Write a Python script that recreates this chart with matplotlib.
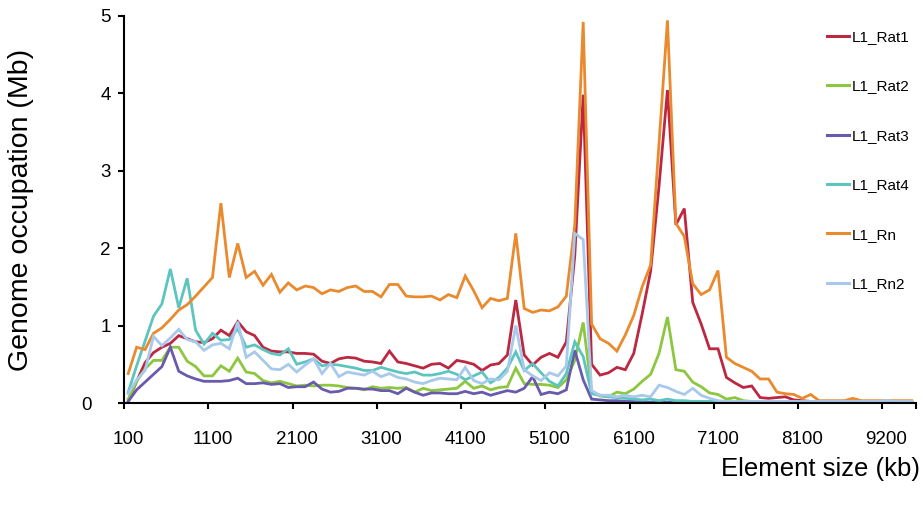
import matplotlib
matplotlib.use("Agg")
import matplotlib.pyplot as plt
from matplotlib.transforms import ScaledTranslation

# ---------------- data ----------------
sizes = list(range(100, 8200, 100)) + list(range(8200, 9100, 100)) + [9200, 9300, 9400, 9500]

L1_Rat1 = [0.02, 0.28, 0.52, 0.65, 0.72, 0.77, 0.87, 0.83, 0.79, 0.78,
           0.83, 0.94, 0.87, 1.05, 0.92, 0.87, 0.72, 0.67, 0.66, 0.66,
           0.64, 0.64, 0.63, 0.54, 0.51, 0.57, 0.59, 0.58, 0.54, 0.53,
           0.51, 0.67, 0.53, 0.51, 0.48, 0.45, 0.50, 0.51, 0.45, 0.55,
           0.53, 0.50, 0.42, 0.49, 0.51, 0.62, 1.33, 0.62, 0.49, 0.59,
           0.64, 0.59, 0.79, 1.90, 3.98, 0.50, 0.36, 0.39, 0.46, 0.43,
           0.64, 1.15, 1.70, 2.80, 4.04, 2.30, 2.51, 1.30, 1.02, 0.70,
           0.70, 0.33, 0.26, 0.20, 0.22, 0.07, 0.06, 0.07, 0.08, 0.04,
           0.03, 0.02, 0.01, 0.01, 0.01, 0.01, 0.01, 0.01, 0.01, 0.01,
           0.01, 0.01, 0.01, 0.01]

L1_Rat2 = [0.05, 0.28, 0.44, 0.55, 0.55, 0.72, 0.72, 0.54, 0.47, 0.35,
           0.35, 0.48, 0.41, 0.58, 0.40, 0.38, 0.29, 0.26, 0.28, 0.25,
           0.22, 0.23, 0.22, 0.23, 0.23, 0.22, 0.20, 0.19, 0.17, 0.21,
           0.19, 0.20, 0.19, 0.20, 0.14, 0.19, 0.16, 0.17, 0.18, 0.19,
           0.28, 0.19, 0.22, 0.17, 0.20, 0.21, 0.45, 0.25, 0.24, 0.24,
           0.23, 0.20, 0.30, 0.55, 1.04, 0.15, 0.09, 0.08, 0.14, 0.12,
           0.18, 0.28, 0.37, 0.64, 1.11, 0.43, 0.41, 0.27, 0.21, 0.13,
           0.11, 0.05, 0.07, 0.03, 0.02, 0.01, 0.01, 0.01, 0.01, 0.01,
           0.01, 0.01, 0.01, 0.01, 0.01, 0.01, 0.01, 0.01, 0.01, 0.01,
           0.01, 0.01, 0.01, 0.01]

L1_Rat3 = [0.02, 0.17, 0.27, 0.37, 0.47, 0.72, 0.41, 0.35, 0.31, 0.28,
           0.28, 0.28, 0.29, 0.32, 0.25, 0.25, 0.26, 0.24, 0.25, 0.20,
           0.21, 0.21, 0.27, 0.18, 0.14, 0.15, 0.19, 0.19, 0.18, 0.18,
           0.16, 0.16, 0.12, 0.19, 0.14, 0.10, 0.13, 0.13, 0.12, 0.12,
           0.15, 0.12, 0.14, 0.10, 0.13, 0.16, 0.14, 0.19, 0.34, 0.11,
           0.14, 0.12, 0.17, 0.68, 0.30, 0.05, 0.04, 0.03, 0.03, 0.02,
           0.02, 0.01, 0.01, 0.01, 0.01, 0.01, 0.01, 0.01, 0.01, 0.01,
           0.01, 0.01, 0.01, 0.01, 0.01, 0.01, 0.01, 0.01, 0.01, 0.01,
           0.01, 0.01, 0.01, 0.01, 0.01, 0.01, 0.01, 0.01, 0.01, 0.01,
           0.01, 0.01, 0.01, 0.01]

L1_Rat4 = [0.14, 0.48, 0.80, 1.12, 1.28, 1.73, 1.23, 1.61, 0.94, 0.76,
           0.90, 0.81, 0.82, 0.96, 0.72, 0.75, 0.69, 0.64, 0.62, 0.70,
           0.50, 0.53, 0.57, 0.48, 0.50, 0.49, 0.47, 0.45, 0.42, 0.42,
           0.46, 0.43, 0.40, 0.38, 0.40, 0.36, 0.36, 0.38, 0.41, 0.37,
           0.30, 0.35, 0.40, 0.26, 0.33, 0.45, 0.66, 0.42, 0.51, 0.39,
           0.28, 0.22, 0.38, 0.79, 0.60, 0.12, 0.10, 0.08, 0.07, 0.06,
           0.05, 0.04, 0.05, 0.03, 0.05, 0.03, 0.03, 0.02, 0.02, 0.02,
           0.02, 0.01, 0.01, 0.01, 0.01, 0.01, 0.01, 0.01, 0.01, 0.01,
           0.01, 0.01, 0.01, 0.01, 0.01, 0.01, 0.01, 0.01, 0.01, 0.01,
           0.01, 0.01, 0.01, 0.01]

L1_Rn = [0.38, 0.72, 0.69, 0.90, 0.97, 1.08, 1.20, 1.27, 1.38, 1.50,
         1.62, 2.58, 1.62, 2.06, 1.62, 1.70, 1.52, 1.66, 1.43, 1.55,
         1.46, 1.51, 1.49, 1.41, 1.46, 1.44, 1.49, 1.51, 1.44, 1.44,
         1.37, 1.53, 1.53, 1.38, 1.37, 1.37, 1.38, 1.33, 1.40, 1.36,
         1.64, 1.45, 1.23, 1.35, 1.32, 1.35, 2.19, 1.22, 1.17, 1.20,
         1.19, 1.24, 1.38, 2.30, 4.92, 1.02, 0.83, 0.77, 0.67, 0.88,
         1.13, 1.50, 1.78, 3.35, 4.94, 2.32, 2.15, 1.54, 1.40, 1.46,
         1.71, 0.59, 0.51, 0.46, 0.41, 0.31, 0.31, 0.14, 0.12, 0.11,
         0.06, 0.11, 0.03, 0.03, 0.03, 0.03, 0.06, 0.03, 0.03, 0.03,
         0.03, 0.03, 0.03, 0.03]

L1_Rn2 = [0.12, 0.30, 0.42, 0.86, 0.74, 0.84, 0.95, 0.82, 0.79, 0.68,
          0.75, 0.77, 0.70, 1.05, 0.59, 0.66, 0.55, 0.44, 0.43, 0.50,
          0.40, 0.49, 0.57, 0.38, 0.51, 0.34, 0.40, 0.38, 0.36, 0.41,
          0.34, 0.38, 0.33, 0.31, 0.27, 0.25, 0.29, 0.32, 0.31, 0.30,
          0.46, 0.29, 0.25, 0.31, 0.30, 0.41, 1.00, 0.43, 0.35, 0.29,
          0.39, 0.35, 0.48, 2.19, 2.11, 0.16, 0.10, 0.10, 0.08, 0.10,
          0.08, 0.10, 0.08, 0.23, 0.20, 0.15, 0.11, 0.19, 0.10, 0.06,
          0.03, 0.02, 0.02, 0.02, 0.02, 0.02, 0.02, 0.02, 0.02, 0.02,
          0.02, 0.02, 0.02, 0.02, 0.02, 0.02, 0.02, 0.02, 0.02, 0.02,
          0.03, 0.02, 0.02, 0.02]

series_names = ["L1_Rat1", "L1_Rat2", "L1_Rat3", "L1_Rat4", "L1_Rn", "L1_Rn2"]
series_values = [L1_Rat1, L1_Rat2, L1_Rat3, L1_Rat4, L1_Rn, L1_Rn2]
colors = ["#BC2841", "#8DC63F", "#6A5AAD", "#5CC5BF", "#E98A2F", "#A7C9EC"]

x_label = "Element size (kb)"
y_label = "Genome occupation (Mb)"

# ---------------- figure ----------------
plt.rcParams['font.family'] = ['Liberation Sans', 'DejaVu Sans']

fig = plt.figure(figsize=(9.23, 5.11), dpi=100)
W, H = 923, 511
ax = fig.add_axes([124 / W, (H - 403) / H, 792 / W, 387.3 / H])

n = len(sizes)
xs = list(range(n))
for name, vals, c in zip(series_names, series_values, colors):
    ax.plot(xs, vals, color=c, lw=2.0, label=name, solid_joinstyle='miter')

ax.set_xlim(-0.5, n - 0.5)
ax.set_ylim(0, 5)

# spines
for s in ['top', 'right']:
    ax.spines[s].set_visible(False)
for s in ['left', 'bottom']:
    ax.spines[s].set_linewidth(1.5)
    ax.spines[s].set_color('black')

# x ticks: marks at category boundaries every 10 and at end; labels at category centers
major = [i - 0.5 for i in range(0, n, 10)] + [n - 0.5]
ax.set_xticks(major)
ax.set_xticklabels([''] * len(major))
label_pos = list(range(0, n, 10))
ax.set_xticks(label_pos, minor=True)
ax.set_xticklabels([str(sizes[i]) for i in label_pos], minor=True)
ax.tick_params(axis='x', which='major', direction='out', length=4, width=1.5, color='black')
ax.tick_params(axis='x', which='minor', length=0, pad=20, labelsize=13.5)

ax.set_yticks([0, 1, 2, 3, 4, 5])
ax.set_yticklabels(['0', '1', '2', '3', '4', '5'])
ax.tick_params(axis='y', direction='out', length=4.5, width=1.5, pad=5, labelsize=13.5)
# the "0" label sits further left in the reference
lbl0 = ax.get_yticklabels()[0]
lbl0.set_transform(lbl0.get_transform() + ScaledTranslation(-0.19, 0, fig.dpi_scale_trans))

ax.set_xlabel(x_label, fontsize=18.5, ha='right')
ax.xaxis.set_label_coords((920 - 124) / 792, (403 - 457) / 387.3)
ax.set_ylabel(y_label, fontsize=20.5)
ax.yaxis.set_label_coords((34 - 124) / 792, (403 - 210) / 387.3)

leg = ax.legend(loc='upper left', bbox_to_anchor=(827 / W, 1 - 30 / H),
                bbox_transform=fig.transFigure, frameon=False, fontsize=11,
                handlelength=1.45, handletextpad=0.15, labelspacing=2.32,
                borderpad=0, borderaxespad=0)
for line in leg.get_lines():
    line.set_linewidth(2.2)

fig.savefig("out.png", dpi=100)
